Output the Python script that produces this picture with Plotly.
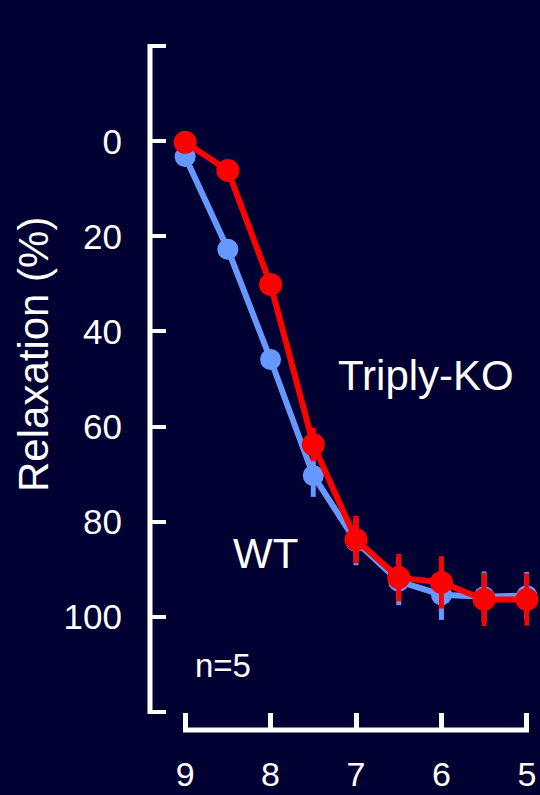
import plotly.graph_objects as go

# ---- data ----
pCa = [9, 8.5, 8, 7.5, 7, 6.5, 6, 5.5, 5]
wt_relax = [3.2, 22.7, 45.9, 70.3, 84.2, 92.6, 95.4, 95.8, 95.6]
wt_err = [0, 0, 0, 4.5, 5, 5, 5.3, 5.3, 5]
ko_relax = [0.2, 6.1, 30.1, 63.8, 83.8, 91.8, 92.8, 96.4, 96.4]
ko_err = [0, 0, 0, 3.5, 5, 5, 5.5, 5.6, 5.5]
x_ticks = [9, 8, 7, 6, 5]
y_ticks = [-20, 0, 20, 40, 60, 80, 100, 120]
y_ticktext = ["", "0", "20", "40", "60", "80", "100", ""]

W, H = 540, 795
ML, MR, MT, MB = 150, 11, 44, 65
PW, PH = W - ML - MR, H - MT - MB

def px(x):
    return (x - ML) / PW

def py(y):
    return (H - MB - y) / PH

BG = "#000033"
BLUE = "#6699FF"
RED = "#FF0000"
FONT = "Liberation Sans, Arial, sans-serif"

fig = go.Figure()
fig.add_trace(go.Scatter(
    x=pCa, y=wt_relax, mode="lines+markers",
    line=dict(color=BLUE, width=6),
    marker=dict(color=BLUE, size=21),
    error_y=dict(type="data", array=wt_err, color=BLUE, thickness=5, width=0),
    cliponaxis=False, showlegend=False))
fig.add_trace(go.Scatter(
    x=pCa, y=ko_relax, mode="lines+markers",
    line=dict(color=RED, width=6),
    marker=dict(color=RED, size=23),
    error_y=dict(type="data", array=ko_err, color=RED, thickness=5, width=0),
    cliponaxis=False, showlegend=False))

fig.update_layout(
    width=W, height=H,
    margin=dict(l=ML, r=MR, t=MT, b=MB, pad=0, autoexpand=False),
    paper_bgcolor=BG, plot_bgcolor=BG,
    font=dict(family=FONT, color="white"),
    xaxis=dict(
        range=[9.025, 4.975], domain=[px(183), 1], anchor="free", position=0,
        automargin=False,
        showgrid=False, zeroline=False, showline=False,
        tickvals=x_ticks, ticktext=[str(v) for v in x_ticks],
        ticks="inside", ticklen=17, tickwidth=5, tickcolor="white",
        tickfont=dict(size=34, color="white", family=FONT),
        ticklabelstandoff=21,
    ),
    yaxis=dict(
        range=[120.5, -20.5], domain=[py(714), 1], anchor="free", position=0,
        automargin=False,
        showgrid=False, zeroline=False, showline=False,
        tickvals=y_ticks, ticktext=y_ticktext,
        ticks="inside", ticklen=15, tickwidth=4, tickcolor="white",
        tickfont=dict(size=35, color="white", family=FONT),
        ticklabelstandoff=28,
    ),
    shapes=[
        dict(type="line", xref="paper", yref="paper", x0=0, x1=0,
             y0=py(714), y1=1, line=dict(color="white", width=5)),
        dict(type="line", xref="paper", yref="paper", x0=px(183), x1=1,
             y0=0, y1=0, line=dict(color="white", width=5)),
    ],
    annotations=[
        dict(text="Relaxation (%)", xref="paper", yref="paper", x=px(33), y=py(354),
             xanchor="center", yanchor="middle", textangle=-90, showarrow=False,
             font=dict(size=42, color="white", family=FONT)),
        dict(text="Triply-KO", xref="paper", yref="paper", x=px(336), y=py(375),
             xanchor="left", yanchor="middle", showarrow=False,
             font=dict(size=42, color="white", family=FONT)),
        dict(text="WT", xref="paper", yref="paper", x=px(231), y=py(553),
             xanchor="left", yanchor="middle", showarrow=False,
             font=dict(size=42, color="white", family=FONT)),
        dict(text="n=5", xref="paper", yref="paper", x=px(193), y=py(665),
             xanchor="left", yanchor="middle", showarrow=False,
             font=dict(size=33, color="white", family=FONT)),
    ],
)

fig.write_html("out.html")
